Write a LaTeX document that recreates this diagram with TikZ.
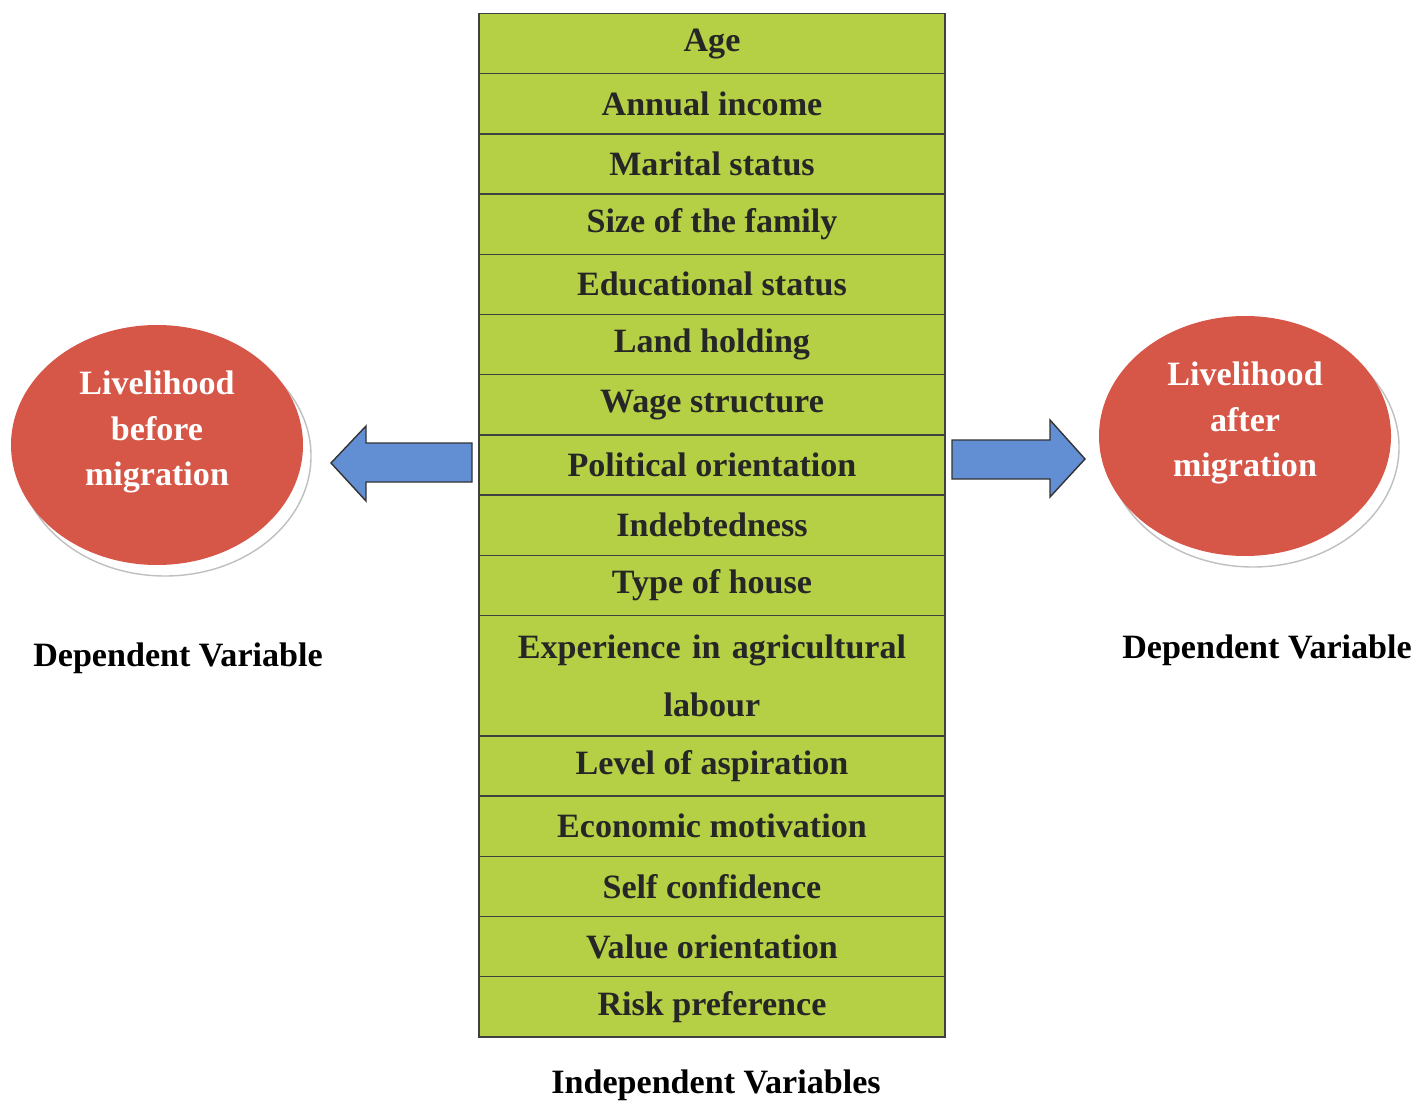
\documentclass[tikz,border=0pt]{standalone}
\usepackage{fontspec}
\setmainfont{Liberation Serif}
\usepackage{xcolor}
\usepackage{tikz}
\usetikzlibrary{matrix,shapes.geometric,shadows}
\definecolor{cellgreen}{RGB}{181,208,68}
\definecolor{livered}{RGB}{214,86,72}
\definecolor{arrowblue}{RGB}{98,143,211}

\begin{document}
\begin{tikzpicture}[
  every node/.style={font=\fontsize{9.7}{12}\selectfont\bfseries},
  cell/.style={draw=black!75,fill=cellgreen,text=black!85,minimum width=4.66cm,
    minimum height=0.602cm,align=center,inner sep=0pt,anchor=center},
  livelihood/.style={ellipse,fill=livered,minimum width=2.92cm,minimum height=2.4cm,
    drop shadow={shadow xshift=0.08cm,shadow yshift=-0.11cm,fill=white,draw=black!25,opacity=1}},
  livetext/.style={text=white,align=center,font=\fontsize{9.7}{13}\selectfont\bfseries},
  bigarrow/.style={draw=black!80,fill=arrowblue,line join=miter}
]
\useasboundingbox (0,0) rectangle (14.21,11.05);

% independent variables
\matrix (m) [matrix of nodes,nodes={cell},row sep=-0.4pt,inner sep=0pt,anchor=north] at (7.12,10.93)
{
  Age\\
  Annual income\\
  Marital status\\
  Size of the family\\
  Educational status\\
  Land holding\\
  Wage structure\\
  Political orientation\\
  Indebtedness\\
  Type of house\\
  |[minimum height=1.204cm,text width=4.1cm,font=\fontsize{9.7}{16.5}\selectfont\bfseries]| \mbox{Experience in agricultural} labour\\
  Level of aspiration\\
  Economic motivation\\
  Self confidence\\
  Value orientation\\
  Risk preference\\
};
\node (indep) at (7.16,0.20) {Independent Variables};

% dependent variables
\node[livelihood] (before) at (1.57,6.60) {};
\node[livetext] (beforetext) at ([yshift=0.13cm]before.center) {Livelihood\\before\\migration};
\node[livelihood] (after) at (12.45,6.69) {};
\node[livetext] (aftertext) at ([yshift=0.13cm]after.center) {Livelihood\\after\\migration};
\node (depleft) at (1.78,4.47) {Dependent Variable};
\node (depright) at (12.67,4.55) {Dependent Variable};

% arrows
\draw[bigarrow] (4.72,6.62) -- (3.66,6.62) -- (3.66,6.79) -- (3.31,6.42)
  -- (3.66,6.04) -- (3.66,6.23) -- (4.72,6.23) -- cycle;
\draw[bigarrow] (9.52,6.65) -- (10.50,6.65) -- (10.50,6.85) -- (10.85,6.46)
  -- (10.50,6.08) -- (10.50,6.26) -- (9.52,6.26) -- cycle;
\end{tikzpicture}
\end{document}
